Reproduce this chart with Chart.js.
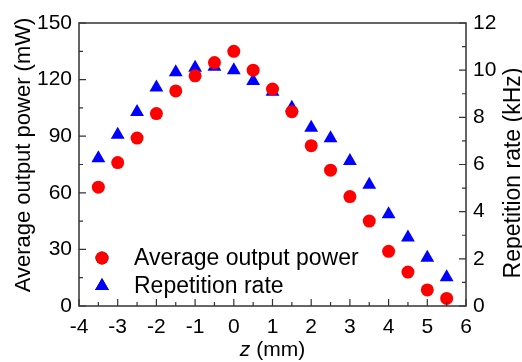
<!DOCTYPE html>
<html>
<head>
<meta charset="utf-8">
<script src="https://cdn.jsdelivr.net/npm/chart.js@4.4.0/dist/chart.umd.min.js"></script>
<style>
  html, body { margin: 0; padding: 0; background: #fff; }
  #wrap { width: 522px; height: 362px; }
</style>
</head>
<body>
<div id="wrap"><canvas id="chart" width="522" height="362"></canvas></div>
<script>
var zPos = [-3.5, -3, -2.5, -2, -1.5, -1, -0.5, 0, 0.5, 1, 1.5, 2, 2.5, 3, 3.5, 4, 4.5, 5, 5.5];
var avgPower = [63, 76, 89, 102, 114, 122, 129, 135, 125, 115, 103, 85, 72, 58, 45, 29, 18, 8.5, 4];
var repRate = [6.26, 7.26, 8.23, 9.26, 9.91, 10.1, 10.15, 10.0, 9.54, 9.09, 8.41, 7.56, 7.11, 6.15, 5.14, 3.89, 2.9, 2.05, 1.22];
var yTitle = 'Average output power (mW)';
var y2Title = 'Repetition rate (kHz)';

var FONT = "'Liberation Sans', Arial, sans-serif";
var AXIS_COLOR = "#333";

function toXY(xs, ys) {
  return xs.map(function(x, i) { return { x: x, y: ys[i] }; });
}

function vText(ctx, txt, x, y) {
  ctx.save();
  ctx.translate(x, y);
  ctx.rotate(-Math.PI / 2);
  ctx.textAlign = 'center';
  ctx.textBaseline = 'alphabetic';
  ctx.fillText(txt, 0, 0);
  ctx.restore();
}

// inward ticks, frame, legend and axis titles
var decorPlugin = {
  id: 'decor',
  afterDraw: function(chart) {
    var ctx = chart.ctx;
    var a = chart.chartArea;
    var sx = chart.scales.x, sy = chart.scales.y, sy2 = chart.scales.y2;
    ctx.save();
    ctx.strokeStyle = AXIS_COLOR;
    ctx.lineWidth = 1.5;
    ctx.strokeRect(a.left, a.top, a.right - a.left, a.bottom - a.top);

    ctx.lineWidth = 1.2;
    ctx.beginPath();
    for (var v = -4; v <= 6.001; v += 0.5) {
      var px = sx.getPixelForValue(v);
      var len = (Math.abs(v - Math.round(v)) < 0.01) ? 7 : 4;
      ctx.moveTo(px, a.bottom); ctx.lineTo(px, a.bottom - len);
    }
    for (var p = 0; p <= 150.01; p += 15) {
      var py = sy.getPixelForValue(p);
      var l2 = (p % 30 === 0) ? 7 : 4;
      ctx.moveTo(a.left, py); ctx.lineTo(a.left + l2, py);
    }
    for (var r = 0; r <= 12.01; r += 1) {
      var ry = sy2.getPixelForValue(r);
      var l3 = (r % 2 === 0) ? 7 : 4;
      ctx.moveTo(a.right, ry); ctx.lineTo(a.right - l3, ry);
    }
    ctx.stroke();

    // legend
    var ds = chart.data.datasets;
    var lx = 102, ly = [258, 286];
    ctx.font = "23px " + FONT;
    ctx.textBaseline = 'middle';
    ctx.textAlign = 'left';
    for (var i = 0; i < ds.length; i++) {
      Chart.helpers.drawPoint(ctx, {
        pointStyle: ds[i].pointStyle,
        radius: ds[i].pointRadius,
        borderWidth: 0
      }, lx, ly[i]);
      ctx.fillStyle = ds[i].backgroundColor;
      ctx.fill();
      ctx.fillStyle = '#000';
      ctx.fillText(ds[i].label, 134, ly[i] + 1);
    }

    // x title with italic z
    ctx.textBaseline = 'alphabetic';
    var ty = 356;
    ctx.font = "italic 21px " + FONT;
    var zw = ctx.measureText('z').width;
    ctx.font = "21px " + FONT;
    var rest = ' (mm)';
    var rw = ctx.measureText(rest).width;
    var cx = (a.left + a.right) / 2;
    var x0 = cx - (zw + rw) / 2;
    ctx.font = "italic 21px " + FONT;
    ctx.fillText('z', x0, ty);
    ctx.font = "21px " + FONT;
    ctx.fillText(rest, x0 + zw, ty);

    // y titles
    ctx.font = "22px " + FONT;
    vText(ctx, yTitle, 30, 155);
    ctx.font = "23px " + FONT;
    vText(ctx, y2Title, 520, 173);
    ctx.restore();
  }
};

var tickFont = { family: FONT, size: 21 };

new Chart(document.getElementById('chart'), {
  type: 'scatter',
  data: {
    datasets: [{
      label: 'Average output power',
      data: toXY(zPos, avgPower),
      yAxisID: 'y',
      pointStyle: 'circle',
      pointRadius: 6.5,
      pointHoverRadius: 6.5,
      backgroundColor: '#ff0000',
      borderWidth: 0
    }, {
      label: 'Repetition rate',
      data: toXY(zPos, repRate),
      yAxisID: 'y2',
      pointStyle: 'triangle',
      pointRadius: 8,
      pointHoverRadius: 8,
      backgroundColor: '#0000ff',
      borderWidth: 0
    }]
  },
  options: {
    responsive: false,
    animation: false,
    layout: { padding: { top: 23, left: 0, right: 0, bottom: 0 } },
    plugins: { legend: { display: false }, tooltip: { enabled: false } },
    scales: {
      x: {
        type: 'linear',
        min: -4, max: 6,
        grid: { display: false, drawTicks: false },
        border: { display: false },
        ticks: { stepSize: 1, padding: 9, color: '#000', font: tickFont },
        afterFit: function(s) { s.height = 56; }
      },
      y: {
        position: 'left',
        min: 0, max: 150,
        grid: { display: false, drawTicks: false },
        border: { display: false },
        ticks: { stepSize: 30, padding: 7, color: '#000', font: tickFont },
        afterFit: function(s) { s.width = 79; }
      },
      y2: {
        position: 'right',
        min: 0, max: 12,
        grid: { display: false, drawTicks: false },
        border: { display: false },
        ticks: { stepSize: 2, padding: 7, color: '#000', font: tickFont },
        afterFit: function(s) { s.width = 56; }
      }
    }
  },
  plugins: [decorPlugin]
});
</script>
</body>
</html>
